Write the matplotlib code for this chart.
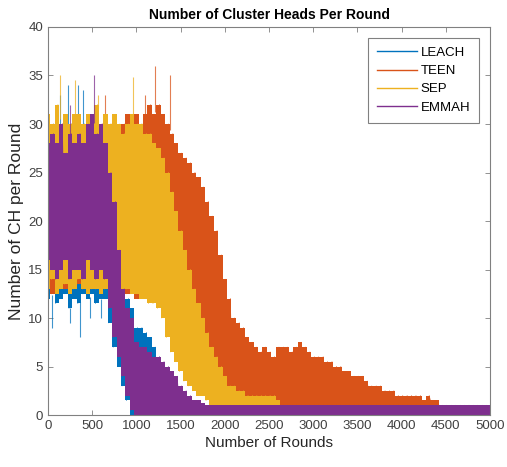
import numpy as np
import matplotlib
matplotlib.use("Agg")
import matplotlib.pyplot as plt
from matplotlib.lines import Line2D

# ── data: per 50-round bin, low / high of the CH count ──
ROUNDS = np.arange(0, 5001, 50)

LEACH_HI = [29, 30, 31, 29, 30, 30, 31, 29, 30, 31, 29, 30, 28, 27,
            26, 21, 16, 13, 12, 11, 9, 9, 8.5, 8, 7, 6, 3, 1] + [0] * 73
LEACH_LO = [12, 12.5, 11.5, 12, 12.5, 11, 12, 11.5, 12.5, 12, 12.5, 11.5, 12, 12,
            9.5, 7, 5, 3, 1.5] + [0] * 82

TEEN_HI = [30, 29, 31, 30, 29, 30, 31, 30, 29, 30, 31, 29, 30, 30,
           30, 31, 29, 30, 31, 30, 31, 30, 31, 32, 31, 32, 31, 30,
           29, 28, 27, 26.5, 26, 25, 24.5, 23.5, 22, 20.5, 19, 16.5,
           14, 12, 10, 9.5, 9, 8, 7.5, 7, 6.5, 7, 6.5, 6,
           7, 7, 7, 6.5, 7, 7.5, 7, 6.5, 6, 6, 6, 5.5, 5.5, 5,
           5, 4.5, 4.5, 4, 4, 4, 3.5, 3, 3, 3, 2.5, 2.5, 2.5, 2,
           2, 2, 2, 2, 2, 1.5, 2, 1.5, 1.5, 1] + [1] * 11
TEEN_LO = [13, 12.5, 13, 14, 13, 12.5, 13, 13.5, 13, 12.5, 13, 14, 13, 13,
           12.5, 13, 12, 13, 12.5, 13, 12, 12.5, 13, 12, 13, 12.5, 13, 12.5,
           13, 12.5, 12, 12, 11, 10.5, 10, 9, 7.5, 6, 5, 4,
           3, 2.5, 2, 1.5, 1.5, 1] + [1] * 43 + [0] * 12

SEP_HI = [31, 30, 32, 30, 31, 30, 31, 31, 30, 31, 30, 32, 30, 31,
          30, 31, 30, 29, 30, 31, 30, 30, 29, 29, 28, 27.5, 26.5, 25,
          23, 21, 19, 17, 15, 13, 11.5, 10, 8.5, 7, 6, 5,
          4, 3, 3, 2.5, 2.5, 2, 2, 2, 2, 2, 2, 2, 1.5] + [1] * 48
SEP_LO = [13, 14, 12.5, 13, 13.5, 12.5, 13, 14, 13, 12.5, 13, 13, 12.5, 13,
          13, 13, 13, 12.5, 13, 12.5, 12.5, 12, 12, 11.5, 11.5, 11, 10, 8,
          6.5, 5.5, 4.5, 3.5, 3, 2.5, 2, 2, 1.5, 1] + [1] * 15 + [0] * 48

EMMAH_HI = [28, 29, 28, 30, 27, 29, 28, 29, 28, 30, 31, 29, 30, 28,
            25, 22, 17, 13, 11, 10, 7.5, 7, 7, 6.5, 6, 6, 5.5, 5,
            4.5, 4, 3, 2.5, 2, 1.5, 1.5, 1.2] + [1] * 65
EMMAH_LO = [16, 15, 14, 15, 16, 14, 15, 15, 14, 16, 15, 14, 15, 14,
            11, 8, 6, 4, 2, 0.5] + [0] * 81

# isolated single-round peaks sticking out above each band
LEACH_SPK_X, LEACH_SPK_Y = [140, 230, 340, 400], [33, 34, 34, 33.5]
TEEN_SPK_X, TEEN_SPK_Y = [650, 1100, 1210, 1380], [33, 33, 36, 35]
SEP_SPK_X, SEP_SPK_Y = [136, 305, 560, 965], [35, 34.5, 33, 34.8]
EMMAH_SPK_X, EMMAH_SPK_Y = [250, 523], [32, 35]
# single-round dips below the LEACH band
LEACH_DIP_X, LEACH_DIP_Y = [40, 250, 360, 470, 600], [9, 9.5, 8, 10, 10]

SERIES = [
    ("LEACH", LEACH_LO, LEACH_HI, LEACH_SPK_X, LEACH_SPK_Y, "#0072BD"),
    ("TEEN",  TEEN_LO,  TEEN_HI,  TEEN_SPK_X,  TEEN_SPK_Y,  "#D95319"),
    ("SEP",   SEP_LO,   SEP_HI,   SEP_SPK_X,   SEP_SPK_Y,   "#EDB120"),
    ("EMMAH", EMMAH_LO, EMMAH_HI, EMMAH_SPK_X, EMMAH_SPK_Y, "#7E2F8E"),
]

plt.rcParams.update({
    "font.family": ["Liberation Sans", "DejaVu Sans"],
    "axes.edgecolor": "#808080",
    "xtick.color": "#808080",
    "ytick.color": "#808080",
    "xtick.labelcolor": "#404040",
    "ytick.labelcolor": "#404040",
})

fig = plt.figure(figsize=(5.07, 4.67), dpi=100)
ax = fig.add_axes([0.0947, 0.1113, 0.8718, 0.8309])

handles = []
for i, (name, lo, hi, sx, sy, color) in enumerate(SERIES):
    z = 2 + i
    lo = np.asarray(lo, dtype=float)
    hi = np.asarray(hi, dtype=float)
    ax.fill_between(ROUNDS, lo, hi, step="mid", color=color, lw=0, zorder=z)
    # zig-zag between the low and high of each bin, gives the noisy edge
    zx = np.column_stack([ROUNDS - 12.5, ROUNDS + 12.5]).ravel()
    zy = np.column_stack([lo, hi]).ravel()
    ax.plot(zx, zy, color=color, lw=0.5, zorder=z)
    ax.vlines(sx, np.interp(sx, ROUNDS, hi), sy, color=color, lw=0.8,
              alpha=0.75, zorder=z)
    if name == "LEACH":
        ax.vlines(LEACH_DIP_X, LEACH_DIP_Y, np.interp(LEACH_DIP_X, ROUNDS, lo),
                  color=color, lw=0.8, alpha=0.75, zorder=z)
    handles.append(Line2D([], [], color=color, lw=1.0, label=name))

ax.set_xlim(0, 5000)
ax.set_ylim(0, 40)
ax.set_xticks(np.arange(0, 5001, 500))
ax.set_yticks(np.arange(0, 41, 5))
ax.tick_params(direction="in", top=True, right=True, length=3.5,
               labelsize=9.5, width=0.6)
for sp in ax.spines.values():
    sp.set_linewidth(0.8)
    sp.set_zorder(10)

ax.set_xlabel("Number of Rounds", fontsize=11, color="#262626", labelpad=3)
ax.set_ylabel("Number of CH per Round", fontsize=12.5, color="#262626", labelpad=3)
ax.set_title("Number of Cluster Heads Per Round", fontsize=10,
             fontweight="bold", color="#000000", pad=6)

leg = ax.legend(handles=handles, loc="upper right", fontsize=9.5,
                handlelength=3.0, handletextpad=0.3, labelspacing=0.45,
                borderpad=0.7, borderaxespad=0.8, fancybox=False,
                framealpha=1)
leg.set_zorder(20)
leg.get_frame().set_edgecolor("#808080")
leg.get_frame().set_linewidth(0.8)

fig.savefig("out.png", dpi=100, facecolor="white")
